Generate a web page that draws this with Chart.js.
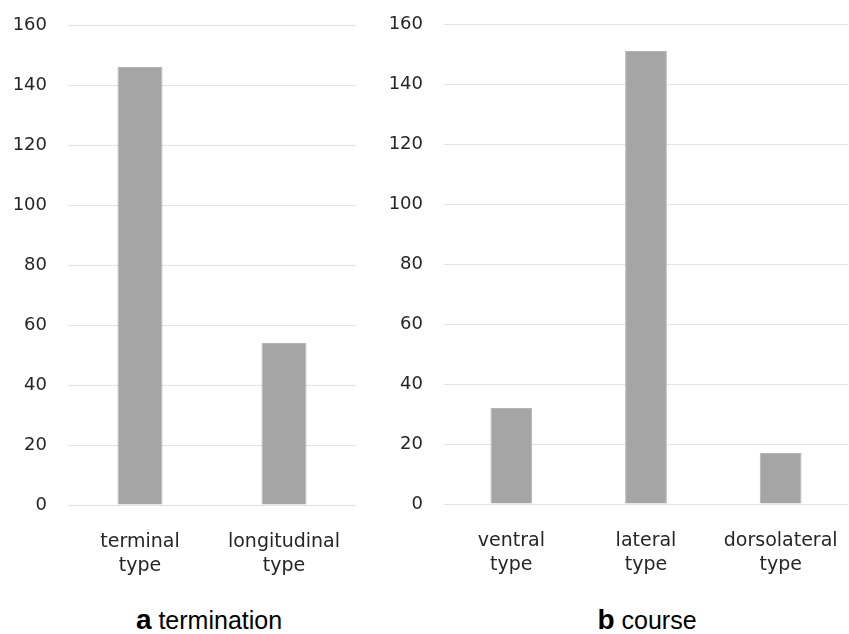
<!DOCTYPE html>
<html>
<head>
<meta charset="utf-8">
<script src="https://cdn.jsdelivr.net/npm/chart.js@4"></script>
<style>
  body { margin: 0; background: #fff; }
  #wrap { position: relative; width: 849px; height: 634px; overflow: hidden; }
  .box { position: absolute; top: 0; }
  .cap { position: absolute; top: 604px; font-family: "Liberation Sans", Arial, sans-serif; font-size: 25px; color: #000; transform: translateX(-50%); white-space: nowrap; }
  .cap b { font-size: 28px; }
</style>
</head>
<body>
<div id="wrap">
  <div class="box" style="left:0;width:370px;height:575px;"><canvas id="chartA"></canvas></div>
  <div class="box" style="left:380px;width:469px;height:574px;"><canvas id="chartB"></canvas></div>
  <div class="cap" style="left:209px;"><b>a</b> termination</div>
  <div class="cap" style="left:647px;"><b>b</b> course</div>
</div>
<script>
// panel a: termination
const terminationLabels = [['terminal', 'type'], ['longitudinal', 'type']];
const terminationValues = [146, 54];
// panel b: course
const courseLabels = [['ventral', 'type'], ['lateral', 'type'], ['dorsolateral', 'type']];
const courseValues = [32, 151, 17];
const yTicks = [0, 20, 40, 60, 80, 100, 120, 140, 160];

const barColor = '#a5a5a5';
const gridColor = '#e3e3e3';
const tickColor = '#262626';
const fontFamily = '"DejaVu Sans", sans-serif';

function makeChart(id, labels, values, yWidth, pad, barPct) {
    const ctx = document.getElementById(id).getContext('2d');
    return new Chart(ctx, {
        type: 'bar',
        data: {
            labels: labels,
            datasets: [{
                data: values,
                backgroundColor: barColor,
                borderColor: '#b4b4b4',
                borderWidth: 1,
                barPercentage: barPct,
                categoryPercentage: 1
            }]
        },
        options: {
            responsive: true,
            maintainAspectRatio: false,
            animation: false,
            layout: { padding: pad },
            plugins: {
                legend: { display: false },
                tooltip: { enabled: false }
            },
            scales: {
                x: {
                    grid: { display: false, drawTicks: false },
                    border: { display: false },
                    ticks: { color: tickColor, font: { family: fontFamily, size: 19, lineHeight: 1.27 }, padding: 25, maxRotation: 0, autoSkip: false },
                    afterFit: (scale) => {
                        scale.height = 70;
                        scale.paddingLeft = 0;
                        scale.paddingRight = 0;
                    }
                },
                y: {
                    min: 0,
                    max: 160,
                    afterBuildTicks: (scale) => { scale.ticks = yTicks.map(v => ({ value: v })); },
                    grid: { color: gridColor, lineWidth: 1, drawTicks: false },
                    border: { display: false },
                    ticks: { color: tickColor, font: { family: fontFamily, size: 18 }, padding: 21 },
                    afterFit: (scale) => {
                        scale.width = yWidth;
                        scale.paddingTop = 0;
                        scale.paddingBottom = 0;
                    }
                }
            }
        }
    });
}

makeChart('chartA', terminationLabels, terminationValues, 68, { top: 25, right: 14, bottom: 0, left: 0 }, 0.3125);
makeChart('chartB', courseLabels, courseValues, 64, { top: 24, right: 1, bottom: 0, left: 0 }, 0.31);
</script>
</body>
</html>
